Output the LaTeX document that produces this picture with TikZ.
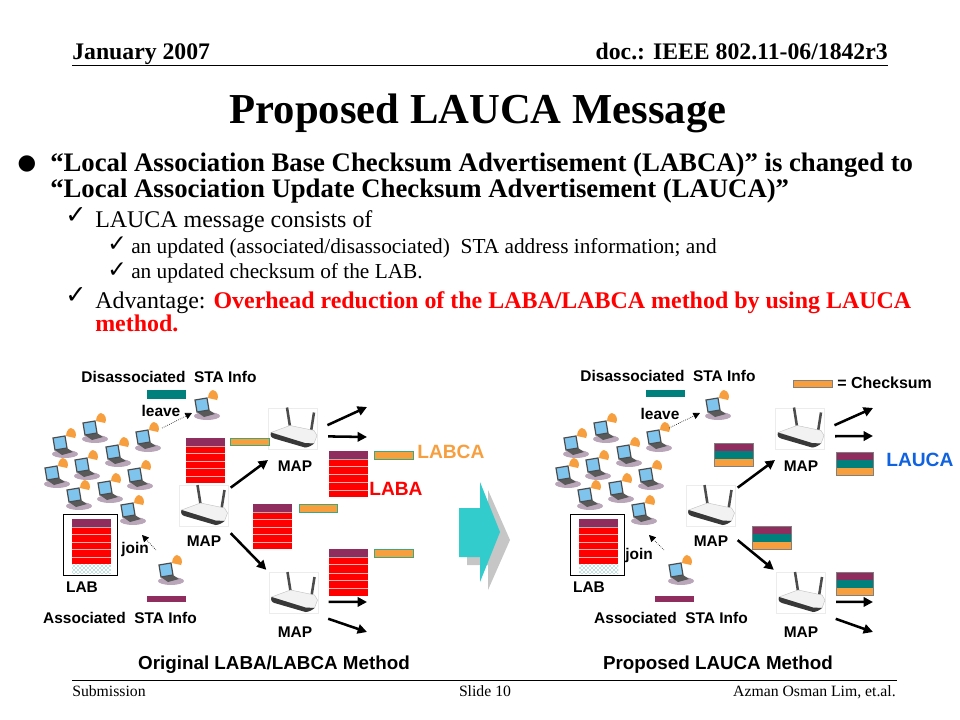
\documentclass[tikz,border=0pt]{standalone}
\usepackage{fontspec}
\setmainfont{Liberation Serif}
\setsansfont{Liberation Sans}
\newfontfamily\symfont{DejaVu Sans}
\usepackage{tikz}
\usetikzlibrary{arrows.meta, patterns}

\definecolor{mapurple}{HTML}{8E2D5E}
\definecolor{maorange}{HTML}{F79F3F}
\definecolor{mateal}{HTML}{00807C}
\definecolor{mablue}{HTML}{0F62E0}
\definecolor{maedge}{HTML}{3FA87A}
\definecolor{macyan}{HTML}{33CCCC}
\definecolor{mascreen}{HTML}{7EC4EC}

\tikzset{
  laptop/.pic={
    \fill[violet!25!gray!55] (5,11) ellipse (13 and 4);
    \fill[gray!70!black] (-5,7) -- (7,5) -- (13,9) -- (2,12) -- cycle;
    \fill[maorange] (6,-7) .. controls (6,-13) and (10,-15) .. (11,-15) .. controls (16,-14) and (17,-8) .. (15,-5) -- cycle;
    \draw[gray!60!black, fill=mascreen, line width=0.9pt] (-7,-5) -- (5,-7) -- (7,5) -- (-5,7) -- cycle;
  },
  router/.pic={
    \draw[black!70, line width=1.9pt] (-6,-21) -- (-3,-2);
    \draw[black!70, line width=1.9pt] (21,-16) -- (18,3);
    \filldraw[draw=gray!50, fill=gray!10, line width=0.3pt] (-22,4) -- (-3,-3) -- (21,2) -- (24,7) -- (21,15) -- (12,15) -- cycle;
    \fill[black!78] (-22,4) .. controls (-23,7) and (-22,9) .. (-19,10) -- (12,19) .. controls (15,19) and (19,17) .. (21,15) -- (12,14.5) -- cycle;
  },
  labastack/.pic={
    \fill[red] (0,0) rectangle (39,45);
    \fill[mapurple] (0,0) rectangle (39,8);
    \draw[gray!60, line width=0.5pt] (0,8) -- (39,8);
    \draw[red!30!white, line width=0.6pt] (0,15) -- (39,15);
    \draw[red!30!white, line width=0.6pt] (0,23) -- (39,23);
    \draw[red!30!white, line width=0.6pt] (0,30) -- (39,30);
    \draw[red!30!white, line width=0.6pt] (0,38) -- (39,38);
  },
  laucastack/.pic={
    \fill[maorange] (0,0) rectangle (39,23);
    \fill[mateal] (0,7) rectangle (39,16);
    \fill[mapurple] (0,0) rectangle (39,8);
    \draw[gray, line width=0.5pt] (0,0) rectangle (39,23);
  },
  stations/.pic={
    \pic at (143,437) {laptop};
    \pic at (90,428)  {laptop};
    \pic at (60,443)  {laptop};
    \pic at (113,452) {laptop};
    \pic at (82,465)  {laptop};
    \pic at (52,473)  {laptop};
    \pic at (135,475) {laptop};
    \pic at (105,488) {laptop};
    \pic at (74,495)  {laptop};
    \pic at (128,510) {laptop};
  }
}

\begin{document}
\begin{tikzpicture}[x=0.75pt, y=-0.75pt,
  headtext/.style={inner sep=0pt, font=\fontsize{17.8}{18}\selectfont\bfseries},
  foottext/.style={inner sep=0pt, font=\fontsize{11.8}{12}\selectfont},
  bodybold/.style={anchor=base west, inner sep=0pt, font=\fontsize{20.05}{20}\selectfont\bfseries},
  bodytext/.style={anchor=base west, inner sep=0pt, font=\fontsize{17.95}{18}\selectfont},
  subtext/.style={anchor=base west, inner sep=0pt, font=\fontsize{16}{16}\selectfont},
  ticktext/.style={anchor=base west, inner sep=0pt, font=\fontsize{19}{19}\selectfont\symfont},
  subtick/.style={anchor=base west, inner sep=0pt, font=\fontsize{17.5}{18}\selectfont\symfont},
  lab/.style={font=\sffamily\bfseries\fontsize{11.6}{12}\selectfont, inner sep=0pt},
  method/.style={font=\sffamily\bfseries\fontsize{14.1}{14}\selectfont, inner sep=0pt},
  tag/.style={font=\sffamily\bfseries\fontsize{14.4}{15}\selectfont, inner sep=0pt},
  mapn/.style={draw=gray!15, fill=white, minimum width=36.75pt, minimum height=30.75pt, inner sep=0pt, outer sep=2pt},
  labboxn/.style={draw, line width=0.7pt, minimum width=40.5pt, minimum height=45.75pt, inner sep=0pt},
  bigarrow/.style={-{Triangle[length=7pt, width=7pt]}, line width=1.9pt},
  moveedge/.style={-{Triangle[length=5pt, width=5pt]}, densely dotted, line width=0.5pt},
  checksum/.style={fill=maorange, draw=maedge, line width=0.7pt}
]
  \useasboundingbox (0,0) rectangle (960,720);
  % ===== header and footer =====
  \node[headtext, anchor=base west] (date) at (72,60) {January 2007};
  \node[headtext, anchor=base east] (doc) at (888,60) {doc.: IEEE 802.11-06/1842r3};
  \draw[line width=0.6pt] (72,65) -- (888,65);
  \node[anchor=base, inner sep=0pt, font=\fontsize{32}{32}\selectfont\bfseries] (title) at (478,124) {Proposed LAUCA Message};
  \draw[line width=0.6pt] (72,680) -- (897,680);
  \node[foottext, anchor=base west] (sub) at (72,696) {Submission};
  \node[foottext, anchor=base] (slide) at (485,696) {Slide 10};
  \node[foottext, anchor=base east] (auth) at (896,696) {Azman Osman Lim, et.al.};
  % ===== slide text =====
  \node[anchor=base, inner sep=0pt, font=\fontsize{16}{16}\selectfont\symfont] (b1) at (27,170) {●};
  \node[bodybold] (l1) at (50,172) {“Local Association Base Checksum Advertisement (LABCA)” is changed to};
  \node[bodybold] (l2) at (50,198) {“Local Association Update Checksum Advertisement (LAUCA)”};
  \node[ticktext] (c1) at (65,224) {✓};
  \node[bodytext] (l3) at (95,228) {LAUCA message consists of};
  \node[subtick] (c2) at (107,252) {✓};
  \node[subtext] (l4) at (131,254) {an updated (associated/disassociated)\ \ STA address information; and};
  \node[subtick] (c3) at (107,277) {✓};
  \node[subtext] (l5) at (131,279) {an updated checksum of the LAB.};
  \node[ticktext] (c4) at (65,303) {✓};
  \node[bodytext] (l6) at (95,308) {Advantage: \textcolor{red}{\bfseries Overhead reduction of the LABA/LABCA method by using LAUCA}};
  \node[bodytext, text=red, font=\fontsize{17.95}{18}\selectfont\bfseries] (l7) at (95,331) {method.};
  % ===== Left: original method =====
  \begin{scope}
    \pic at (0,0) {stations};
    \pic (sta1) at (202,405) {laptop};
    \pic (sta2) at (166,570) {laptop};
    \node[lab] (dis1) at (169,377) {Disassociated\ \ STA Info};
    \node[lab] (ass1) at (120,618) {Associated\ \ STA Info};
    \node[lab] (leave1) at (161,411) {leave};
    \node[lab] (join1) at (135,549) {join};
    \fill[mateal] (147,390) rectangle (186,399);
    \fill[mapurple] (147,596) rectangle (186,602);
    \coordinate (lf1) at (162,428);
    \coordinate (lt1) at (192,413);
    \coordinate (jf1) at (156,550);
    \coordinate (jt1) at (142,535);
    \draw[moveedge] (lf1) -- (lt1);
    \draw[moveedge] (jf1) -- (jt1);
    \node[labboxn] (labbox1) at (90,544.5) {};
    \pic at (72,519) {labastack};
    \fill[pattern=crosshatch dots, pattern color=mateal] (72,564) rectangle (111,573);
    \node[lab] (lab1) at (82,587) {LAB};
    % routers
    \node[mapn] (mapc1) at (203.5,506) {};
    \pic at (mapc1) {router};
    \node[mapn] (mapt1) at (293,428.5) {};
    \pic at (mapt1) {router};
    \node[mapn] (mapb1) at (293.5,593) {};
    \pic at (mapb1) {router};
    \node[lab] (mapcl1) at (204,541) {MAP};
    \node[lab] (maptl1) at (295,466) {MAP};
    \node[lab] (mapbl1) at (295,632) {MAP};
    \coordinate (in1) at (268,460);
    \coordinate (o11) at (367,407);
    \coordinate (o12) at (367,437);
    \coordinate (o13) at (367,602);
    \coordinate (o14) at (367,632);
    \draw[bigarrow] (mapc1.34) -- (in1);
    \draw[bigarrow] (mapc1.south east) ++(0,4) -- (mapb1.north west);
    \draw[bigarrow, shorten <=6pt] (mapt1.east) -- (o11);
    \draw[bigarrow, shorten <=6pt] (mapt1.-16) -- (o12);
    \draw[bigarrow, shorten <=6pt] (mapb1.-18) -- (o13);
    \draw[bigarrow, shorten <=6pt] (mapb1.south east) -- (o14);
    % stacks and checksums
    \pic at (186,438) {labastack};
    \pic[yscale=1.03] at (329,451) {labastack};
    \pic at (253,504) {labastack};
    \pic[yscale=1.04] at (329,549) {labastack};
    \filldraw[checksum] (230,438) rectangle (269,445);
    \filldraw[checksum] (374,451) rectangle (413,459);
    \filldraw[checksum] (299,504) rectangle (337,512);
    \filldraw[checksum] (374,549) rectangle (413,557);
    \node[tag, text=maorange, anchor=west] (labca) at (417,452) {LABCA};
    \node[tag, text=red, anchor=west] (laba) at (369,489) {LABA};
    \node[method] (meth1) at (274,665) {Original LABA/LABCA Method};
  \end{scope}
  % ===== big arrow =====
  \fill[gray!45] (467,516) -- (488,516) -- (488,490) -- (510,540) -- (488,590) -- (488,565) -- (467,565) -- cycle;
  \fill[macyan] (459,508) -- (480,508) -- (480,482) -- (500,532) -- (480,582) -- (480,557) -- (459,557) -- cycle;
  % ===== Right: proposed method =====
  \begin{scope}[shift={(507,0)}]
    \pic at (4,0) {stations};
    \pic (sta3) at (206,405) {laptop};
    \pic (sta4) at (169,570) {laptop};
    \node[lab] (dis2) at (161,376) {Disassociated\ \ STA Info};
    \node[lab] (ass2) at (164,618) {Associated\ \ STA Info};
    \node[lab] (leave2) at (153,414) {leave};
    \node[lab] (join2) at (132,555) {join};
    \fill[mateal] (139,390) rectangle (178,397);
    \fill[mapurple] (148,596) rectangle (187,602);
    \coordinate (lf2) at (162,428);
    \coordinate (lt2) at (193,413);
    \coordinate (jf2) at (157,550);
    \coordinate (jt2) at (142,535);
    \draw[moveedge] (lf2) -- (lt2);
    \draw[moveedge] (jf2) -- (jt2);
    \node[labboxn] (labbox2) at (90,544.5) {};
    \pic at (72,519) {labastack};
    \fill[pattern=crosshatch dots, pattern color=mateal] (72,564) rectangle (111,573);
    \node[lab] (lab2) at (82,587) {LAB};
    % routers
    \node[mapn] (mapc2) at (203.5,506) {};
    \pic at (mapc2) {router};
    \node[mapn] (mapt2) at (293,428.5) {};
    \pic at (mapt2) {router};
    \node[mapn] (mapb2) at (294,593) {};
    \pic at (mapb2) {router};
    \node[lab] (mapcl2) at (204,541) {MAP};
    \node[lab] (maptl2) at (294,466) {MAP};
    \node[lab] (mapbl2) at (294,632) {MAP};
    \coordinate (in2) at (268,460);
    \coordinate (o21) at (366,408);
    \coordinate (o22) at (366,436);
    \coordinate (o23) at (366,602);
    \coordinate (o24) at (366,632);
    \draw[bigarrow] (mapc2.34) -- (in2);
    \draw[bigarrow] (mapc2.south east) ++(0,11) -- (mapb2.north west);
    \draw[bigarrow, shorten <=6pt] (mapt2.east) -- (o21);
    \draw[bigarrow, shorten <=6pt] (mapt2.-16) -- (o22);
    \draw[bigarrow, shorten <=6pt] (mapb2.-18) -- (o23);
    \draw[bigarrow, shorten <=6pt] (mapb2.south east) -- (o24);
    % stacks
    \pic at (207,443) {laucastack};
    \pic at (245,526) {laucastack};
    \pic[xscale=0.95] at (329,452) {laucastack};
    \pic[xscale=0.95] at (329,572) {laucastack};
    \node[tag, text=mablue, anchor=west] (lauca) at (379,460) {LAUCA};
    \filldraw[fill=maorange, draw=gray, line width=0.5pt] (286,380) rectangle (325,387);
    \node[lab, anchor=west, font=\sffamily\bfseries\fontsize{12}{12}\selectfont] (cslab) at (330,383) {= Checksum};
    \node[method] (meth2) at (211,665) {Proposed LAUCA Method};
  \end{scope}
\end{tikzpicture}
\end{document}
